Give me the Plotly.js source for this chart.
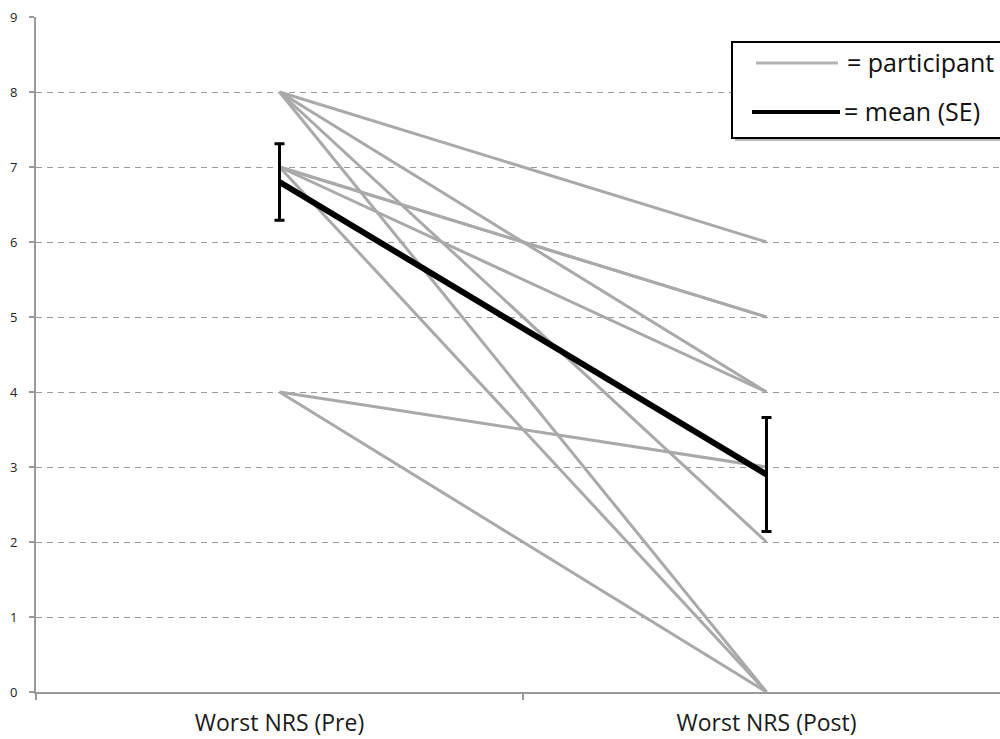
<!DOCTYPE html>
<html>
<head>
<meta charset="utf-8">
<script src="https://cdn.plot.ly/plotly-3.0.1.min.js"></script>
<style>html,body{margin:0;padding:0;background:#fff;}#chart{width:1000px;height:739px;}</style>
</head>
<body>
<div id="chart"></div>
<script>
const categories = ['Worst NRS (Pre)', 'Worst NRS (Post)'];
const preScores  = [8, 8, 8, 8, 7, 7, 7, 7, 4, 4];
const postScores = [6, 4, 2, 0, 5, 5, 4, 0, 3, 0];
const meanValues = [6.8, 2.9];
const seValues   = [0.51, 0.76];
const yTicks = [0, 1, 2, 3, 4, 5, 6, 7, 8, 9];
const legendLabels = ['= participant', '= mean (SE)'];

const traces = [];
for (let i = 0; i < preScores.length; i++) {
  traces.push({
    type: 'scatter', mode: 'lines',
    x: categories, y: [preScores[i], postScores[i]],
    line: {color: '#a9a9a9', width: 3},
    hoverinfo: 'skip', showlegend: false
  });
}
traces.push({
  type: 'scatter', mode: 'lines',
  x: categories, y: meanValues,
  line: {color: '#000', width: 6},
  error_y: {type: 'data', array: seValues, visible: true, color: '#000', thickness: 3, width: 5},
  showlegend: false
});

// pixel -> paper helpers (plot area: x 36..1000, y 17..692)
const PX0 = 36, PX1 = 1000, PY0 = 17, PY1 = 692;
const px = v => (v - PX0) / (PX1 - PX0);
const py = v => (PY1 - v) / (PY1 - PY0);

const FONT = '"Open Sans", Lato, sans-serif';

const shapes = [
  {type: 'rect', xref: 'paper', yref: 'paper', x0: px(735), x1: px(1010), y0: py(141), y1: py(45),
   fillcolor: '#bbb', line: {width: 0}},
  {type: 'rect', xref: 'paper', yref: 'paper', x0: px(732), x1: px(1010), y0: py(138), y1: py(42),
   fillcolor: '#fff', line: {color: '#000', width: 2}},
  {type: 'line', xref: 'paper', yref: 'paper', x0: px(756), x1: px(838), y0: py(63), y1: py(63),
   line: {color: '#b3b3b3', width: 3}},
  {type: 'line', xref: 'paper', yref: 'paper', x0: px(752), x1: px(840), y0: py(112), y1: py(112),
   line: {color: '#000', width: 4}}
];

const annotations = [
  {xref: 'paper', yref: 'paper', x: px(845), y: py(62), xanchor: 'left', yanchor: 'middle',
   text: legendLabels[0], showarrow: false, font: {family: FONT, size: 25, color: '#111'}},
  {xref: 'paper', yref: 'paper', x: px(842), y: py(111), xanchor: 'left', yanchor: 'middle',
   text: legendLabels[1], showarrow: false, font: {family: FONT, size: 25, color: '#111'}}
];

const layout = {
  width: 1000, height: 739,
  margin: {l: 36, r: 0, t: 17, b: 47, pad: 0},
  paper_bgcolor: '#fff', plot_bgcolor: '#fff',
  showlegend: false,
  font: {family: FONT, color: '#222'},
  xaxis: {
    type: 'category', categoryorder: 'array', categoryarray: categories,
    range: [-0.5, 1.4795],
    tickson: 'boundaries', ticks: 'outside', ticklen: 6, tickwidth: 2, tickcolor: '#999',
    showline: true, linecolor: '#999', linewidth: 2,
    showgrid: false, zeroline: false,
    tickfont: {family: FONT, size: 23, color: '#1a1a1a'},
    ticklabelstandoff: 9
  },
  yaxis: {
    range: [0, 9], tickvals: yTicks, ticktext: yTicks.map(String),
    ticks: 'outside', ticklen: 5, tickwidth: 2, tickcolor: '#999',
    showline: true, linecolor: '#999', linewidth: 2,
    showgrid: true, gridcolor: '#999', gridwidth: 1, griddash: '6px,5px',
    zeroline: false,
    tickfont: {family: FONT, size: 13, color: '#222'},
    ticklabelstandoff: 9
  },
  shapes: shapes,
  annotations: annotations
};

Plotly.newPlot('chart', traces, layout, {displayModeBar: false, staticPlot: true});
</script>
</body>
</html>
